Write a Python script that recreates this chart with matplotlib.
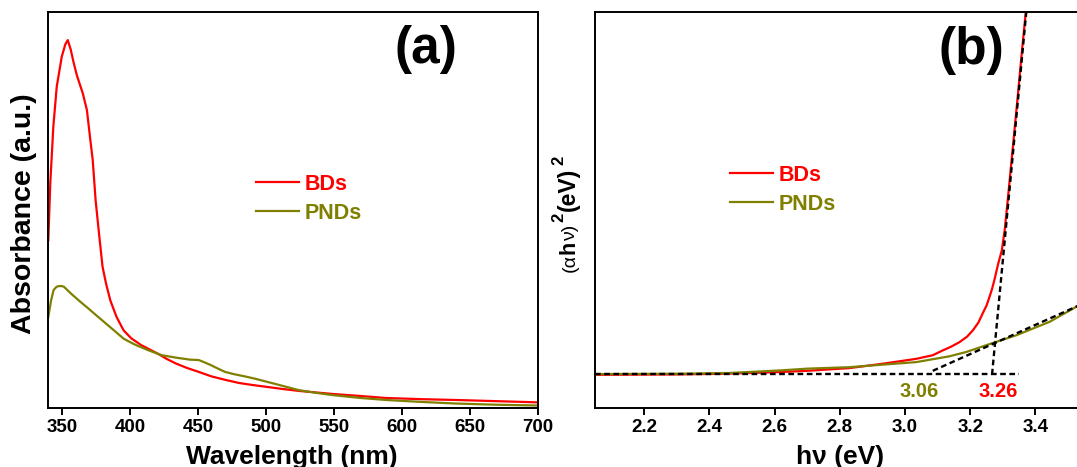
import matplotlib
matplotlib.use("Agg")
import matplotlib.pyplot as plt
from matplotlib.transforms import IdentityTransform

plt.rcParams["font.family"] = ["Liberation Sans", "DejaVu Sans"]
plt.rcParams["font.weight"] = "bold"

# ---- (a) UV-vis absorbance spectra ----
wl_bds = [340, 341.5, 343.7, 346.2, 349.9, 352.5, 354.3, 356.5, 358.5, 361, 365.4,
          368.4, 370.8, 372.7, 374.8, 377.3, 379.9, 382.5, 385.6, 390.2, 395.4,
          401, 408.2, 415, 421.1, 427, 434.0, 442, 450.7, 459.7, 470, 480.3, 490,
          500.9, 512, 524.1, 537, 549.9, 570, 588.5, 615, 640, 670, 700]
abs_bds = [0.423, 0.57, 0.71, 0.811, 0.887, 0.918, 0.929, 0.905, 0.874, 0.84, 0.794,
           0.752, 0.680, 0.625, 0.524, 0.44, 0.356, 0.313, 0.271, 0.229, 0.195,
           0.175, 0.158, 0.146, 0.135, 0.123, 0.111, 0.100, 0.090, 0.079, 0.070,
           0.062, 0.057, 0.052, 0.047, 0.042, 0.038, 0.034, 0.029, 0.024, 0.021,
           0.019, 0.016, 0.013]

wl_pnds = [340, 342, 343.9, 346, 347.7, 350, 351.6, 356.7, 363, 369.6, 376, 382.5,
           389, 395.4, 403.1, 413.4, 423.7, 434.0, 444.3, 450.7, 455, 459.7, 465,
           470, 477, 485.5, 493, 500.9, 512, 524.1, 537, 549.9, 570, 588.5, 615,
           640, 670, 700]
abs_pnds = [0.229, 0.27, 0.297, 0.305, 0.307, 0.307, 0.305, 0.288, 0.269, 0.250,
            0.231, 0.212, 0.193, 0.174, 0.160, 0.145, 0.132, 0.126, 0.121, 0.120,
            0.114, 0.107, 0.098, 0.090, 0.084, 0.078, 0.072, 0.065, 0.055, 0.044,
            0.037, 0.031, 0.024, 0.019, 0.014, 0.010, 0.007, 0.005]

wl_ticks = [350, 400, 450, 500, 550, 600, 650, 700]

# ---- (b) Tauc plot ----
e_bds = [2.05, 2.3, 2.45, 2.6, 2.7, 2.829, 2.931, 3.034, 3.085, 3.115, 3.14, 3.167,
         3.19, 3.208, 3.225, 3.238, 3.25, 3.259, 3.267, 3.274, 3.286, 3.297, 3.306,
         3.315, 3.33, 3.345, 3.3595, 3.3705, 3.392]
tauc_bds = [-0.001, 0.0, 0.002, 0.006, 0.010, 0.0175, 0.0295, 0.043, 0.053, 0.066,
            0.076, 0.089, 0.104, 0.1215, 0.143, 0.168, 0.19, 0.2135, 0.236, 0.26,
            0.306, 0.3425, 0.40, 0.48, 0.62, 0.76, 0.90, 1.0, 1.2]

e_pnds = [2.05, 2.3, 2.46, 2.616, 2.7, 2.829, 2.931, 3.034, 3.136, 3.188, 3.27,
          3.341, 3.443, 3.53]
tauc_pnds = [0.001, 0.002, 0.004, 0.011, 0.016, 0.020, 0.027, 0.034, 0.050, 0.062,
             0.087, 0.108, 0.145, 0.189]

# band-gap extrapolations: intercepts on the baseline
gap_bds = 3.26
gap_pnds = 3.06
fit_bds_e = [3.267, 3.372]
fit_bds_y = [0.0, 1.0]
fit_pnds_e = [3.085, 3.53]
fit_pnds_y = [0.010, 0.189]
baseline_e = [2.05, 3.35]
baseline_y = [0.0, 0.0]

e_ticks = [2.2, 2.4, 2.6, 2.8, 3.0, 3.2, 3.4]

RED = "#ff0000"
OLIVE = "#808000"

W, H = 1077, 467
fig = plt.figure(figsize=(W / 100, H / 100), dpi=100)

ax_a = fig.add_axes([48.3 / W, (H - 407.5) / H, 489.4 / W, 395.5 / H])
ax_b = fig.add_axes([595.3 / W, (H - 407.5) / H, 482.5 / W, 395.5 / H])

for ax in (ax_a, ax_b):
    for sp in ax.spines.values():
        sp.set_linewidth(1.4)
    ax.tick_params(axis="x", direction="out", length=5, width=1.4,
                   labelsize=13.5, pad=3)
    ax.tick_params(axis="y", left=False, labelleft=False)

# panel (a)
ax_a.plot(wl_bds, abs_bds, color=RED, lw=1.6, label="BDs")
ax_a.plot(wl_pnds, abs_pnds, color=OLIVE, lw=1.6, label="PNDs")
ax_a.set_xlim(340, 700)
ax_a.set_ylim(0, 1)
ax_a.set_xticks(wl_ticks)
ax_a.set_xticklabels([str(t) for t in wl_ticks], fontweight="bold")
ax_a.text(0.7707, 0.905, "(a)", transform=ax_a.transAxes, fontsize=37,
          fontweight="bold", ha="center", va="center")
ax_a.legend(loc="center left", bbox_to_anchor=(0.4244, 0.5277), frameon=False,
            borderpad=0, borderaxespad=0, handlelength=2.0, handletextpad=0.25,
            labelspacing=0.38, labelcolor="linecolor",
            prop={"weight": "bold", "size": 15.5})

# panel (b)
ax_b.plot(e_bds, tauc_bds, color=RED, lw=1.6, label="BDs", zorder=2)
ax_b.plot(e_pnds, tauc_pnds, color=OLIVE, lw=1.6, label="PNDs", zorder=3)
dash = (0, (2.4, 1.5))
for xs, ys in ((baseline_e, baseline_y), (fit_bds_e, fit_bds_y),
               (fit_pnds_e, fit_pnds_y)):
    ax_b.plot(xs, ys, color="black", lw=1.7, linestyle=dash, zorder=4)
ax_b.set_xlim(2.05, 3.53)
ax_b.set_ylim(-0.0912, 1.0)
ax_b.set_xticks(e_ticks)
ax_b.set_xticklabels([f"{t:.1f}" for t in e_ticks], fontweight="bold")
ax_b.spines["right"].set_visible(False)
ax_b.text(gap_pnds - 0.016, -0.046, f"{gap_pnds:.2f}", color=OLIVE, fontsize=14.5,
          fontweight="bold", ha="center", va="center")
ax_b.text(gap_bds + 0.027, -0.046, f"{gap_bds:.2f}", color=RED, fontsize=14.5,
          fontweight="bold", ha="center", va="center")
ax_b.text(0.7787, 0.902, "(b)", transform=ax_b.transAxes, fontsize=37,
          fontweight="bold", ha="center", va="center")
ax_b.legend(loc="center left", bbox_to_anchor=(0.2792, 0.5507), frameon=False,
            borderpad=0, borderaxespad=0, handlelength=2.0, handletextpad=0.25,
            labelspacing=0.38, labelcolor="linecolor",
            prop={"weight": "bold", "size": 15.5})

# axis titles
fig.text(24 / W, 1 - 214 / H, "Absorbance (a.u.)", rotation=90, fontsize=20.5,
         fontweight="bold", ha="center", va="center")
fig.text(292 / W, 1 - 445 / H, "Wavelength (nm)", fontsize=19,
         fontweight="bold", ha="center", va="top")
fig.text(840 / W, 1 - 445 / H, "hν (eV)", fontsize=19,
         fontweight="bold", ha="center", va="top")

# (αhν)²(eV)² written bottom-to-top from mixed-weight pieces
renderer = fig.canvas.get_renderer()
x_base = 575.0
y_pos = H - 272.0
pieces = [("(α", 14, "normal", 0, 0), ("h", 15.5, "bold", 0, 0),
          ("ν)", 14, "normal", 0, 3), ("2", 12, "bold", 12, 1),
          ("(eV)", 16.5, "bold", 0, 3), ("2", 12, "bold", 12, 0)]
for s, size, weight, rise, gap in pieces:
    t = fig.text(x_base - rise, y_pos, s, rotation=90, rotation_mode="anchor",
                 ha="left", va="baseline", fontsize=size, fontweight=weight,
                 transform=IdentityTransform())
    y_pos += t.get_window_extent(renderer).height + gap

fig.savefig("out.png", dpi=100)
